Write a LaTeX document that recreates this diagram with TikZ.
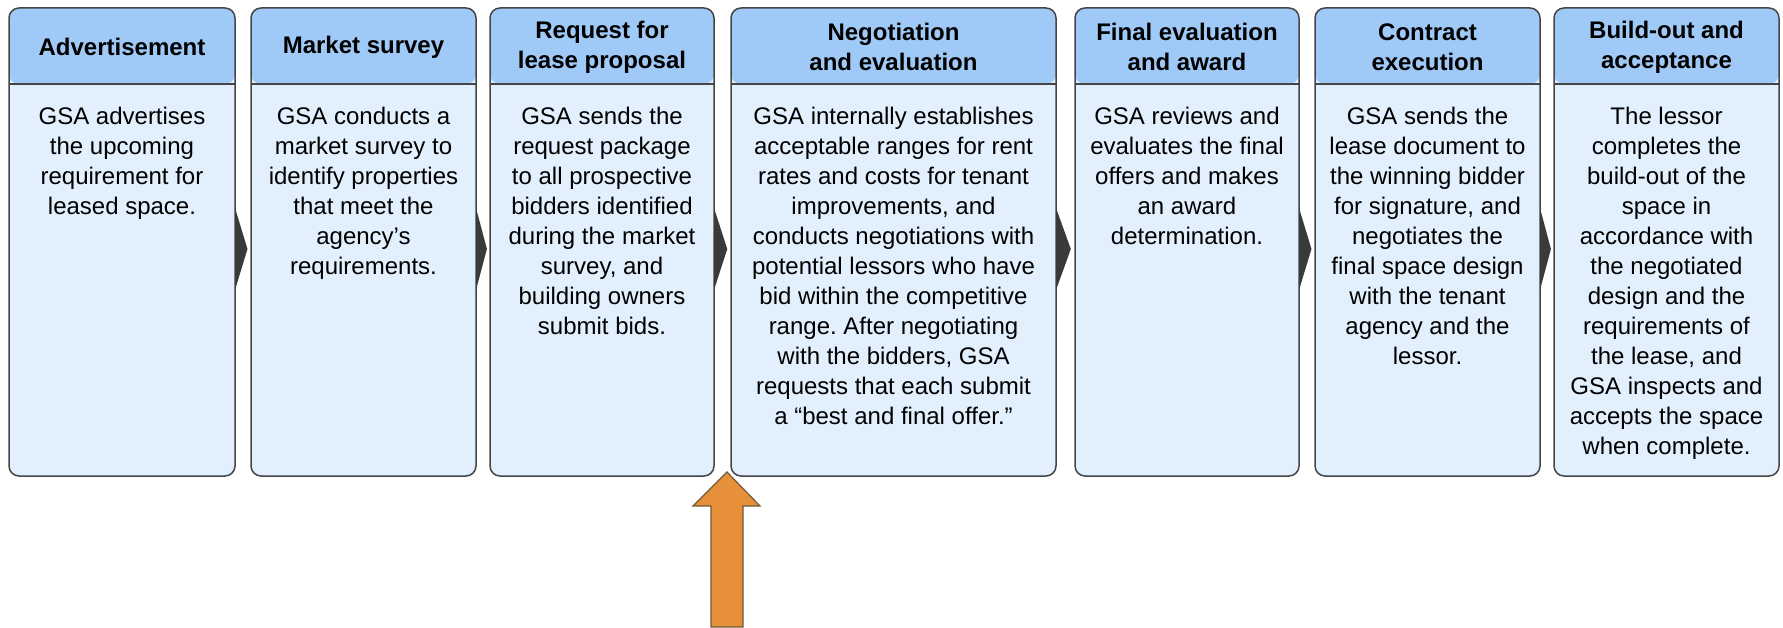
\documentclass[tikz,border=0pt]{standalone}
\usepackage{fontspec}
\setmainfont{Liberation Sans}
\usetikzlibrary{calc}
\frenchspacing
\definecolor{headblue}{HTML}{9FC9F7}
\definecolor{bodyblue}{HTML}{E2EFFC}
\definecolor{boxline}{HTML}{454545}
\definecolor{chevgray}{HTML}{3A3A3A}
\definecolor{inorange}{HTML}{E6913A}
\definecolor{inbrown}{HTML}{6E5B3C}

\begin{document}
\begin{tikzpicture}[x=0.5pt, y=0.5pt,
  stage/.style={draw=boxline, line width=0.75pt, fill=bodyblue, rounded corners=5pt,
    minimum height=234pt, inner sep=0pt, outer sep=0pt,
    path picture={
      \fill[headblue] (path picture bounding box.north west) rectangle ([yshift=-38pt]path picture bounding box.north east);
      \draw[boxline, line width=0.75pt] ([yshift=-38pt]path picture bounding box.north west) -- ([yshift=-38pt]path picture bounding box.north east);}},
  head/.style={font=\fontsize{12}{15}\selectfont\bfseries, align=center},
  body/.style={font=\fontsize{12}{15}\selectfont, align=center, anchor=north, inner sep=0pt},
  inflow/.style={fill=inorange, draw=inbrown, line width=0.6pt}]
  \useasboundingbox (0,0) rectangle (1783,627);

  \node[stage, minimum width=113pt] (adv) at (122,385) {};
  \node[stage, minimum width=112.5pt] (survey) at (363.5,385) {};
  \node[stage, minimum width=112pt] (rlp) at (602,385) {};
  \node[stage, minimum width=162.5pt] (negot) at (893.5,385) {};
  \node[stage, minimum width=112pt] (award) at (1187,385) {};
  \node[stage, minimum width=112.5pt] (contract) at (1427.5,385) {};
  \node[stage, minimum width=112.5pt] (buildout) at (1666.5,385) {};

  % step titles
  \node[head] (adv-h) at ([yshift=-19.5pt]adv.north) {Advertisement};
  \node[head] (survey-h) at ([yshift=-19.5pt]survey.north) {Market survey};
  \node[head] (rlp-h) at ([yshift=-19.5pt]rlp.north) {Request for\\lease proposal};
  \node[head] (negot-h) at ([yshift=-19.5pt]negot.north) {Negotiation\\and evaluation};
  \node[head] (award-h) at ([yshift=-19.5pt]award.north) {Final evaluation\\and award};
  \node[head] (contract-h) at ([yshift=-19.5pt]contract.north) {Contract\\execution};
  \node[head] (buildout-h) at ([yshift=-19.5pt]buildout.north) {Build-out and\\acceptance};

  % step descriptions
  \node[body] (adv-t) at ([yshift=-49.5pt]adv.north) {GSA advertises\\the upcoming\\requirement for\\leased space.};
  \node[body] (survey-t) at ([yshift=-49.5pt]survey.north) {GSA conducts a\\market survey to\\identify properties\\that meet the\\agency’s\\requirements.};
  \node[body] (rlp-t) at ([yshift=-49.5pt]rlp.north) {GSA sends the\\request package\\to all prospective\\bidders identified\\during the market\\survey, and\\building owners\\submit bids.};
  \node[body] (negot-t) at ([yshift=-49.5pt]negot.north) {GSA internally establishes\\acceptable ranges for rent\\rates and costs for tenant\\improvements, and\\conducts negotiations with\\potential lessors who have\\bid within the competitive\\range. After negotiating\\with the bidders, GSA\\requests that each submit\\a “best and final offer.”};
  \node[body] (award-t) at ([yshift=-49.5pt]award.north) {GSA reviews and\\evaluates the final\\offers and makes\\an award\\determination.};
  \node[body] (contract-t) at ([yshift=-49.5pt]contract.north) {GSA sends the\\lease document to\\the winning bidder\\for signature, and\\negotiates the\\final space design\\with the tenant\\agency and the\\lessor.};
  \node[body] (buildout-t) at ([yshift=-49.5pt]buildout.north) {The lessor\\completes the\\build-out of the\\space in\\accordance with\\the negotiated\\design and the\\requirements of\\the lease, and\\GSA inspects and\\accepts the space\\when complete.};

  % chevrons between steps
  \foreach \a/\b in {adv/survey, survey/rlp, rlp/negot, negot/award, award/contract, contract/buildout}
    \fill[chevgray] ([yshift=17pt]\a.east) -- ($(\a.east)!0.78!(\b.west)+(0,-7)$) -- ([yshift=-24pt]\a.east) -- cycle;

  % block arrow coming in from below
  \coordinate (tip) at (727,155);
  \coordinate (foot) at (727,0);
  \draw[inflow] (foot) ++(-16,0) -- ++(0,121) -- ++(-18,0) -- (tip) -- ++(33,-34) -- ++(-17,0) -- ++(0,-121) -- cycle;
\end{tikzpicture}
\end{document}
